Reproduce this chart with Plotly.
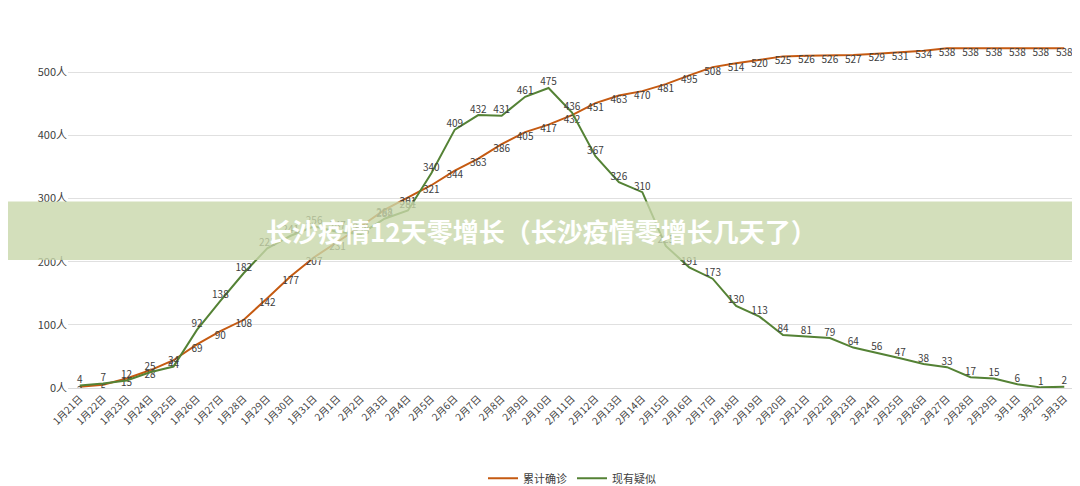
import plotly.graph_objects as go

dates = [f"1月{d}日" for d in range(21, 32)] + [f"2月{d}日" for d in range(1, 30)] + [f"3月{d}日" for d in range(1, 4)]
confirmed = [2, 5, 15, 28, 44, 69, 90, 108, 142, 177, 207, 231, 256, 282, 301, 321, 344, 363, 386, 405, 417,
             432, 451, 463, 470, 481, 495, 508, 514, 520, 525, 526, 526, 527, 529, 531, 534, 538, 538, 538, 538, 538, 538]
suspected = [4, 7, 12, 25, 34, 92, 138, 182, 221, 241, 256, 247, 244, 268, 281, 340, 409, 432, 431, 461, 475,
             436, 367, 326, 310, 225, 191, 173, 130, 113, 84, 81, 79, 64, 56, 47, 38, 33, 17, 15, 6, 1, 2]
yticks = [0, 100, 200, 300, 400, 500, 600]

fig = go.Figure()
fig.add_trace(go.Scatter(x=dates, y=confirmed, name="累计确诊", mode="lines+text",
                         line=dict(color="#C55A11", width=2), text=[str(v) for v in confirmed],
                         textposition="bottom center", textfont=dict(size=10, color="#404040")))
fig.add_trace(go.Scatter(x=dates, y=suspected, name="现有疑似", mode="lines+text",
                         line=dict(color="#548235", width=2), text=[str(v) for v in suspected],
                         textposition="top center", textfont=dict(size=10, color="#404040")))
fig.update_layout(
    width=1080, height=486, paper_bgcolor="white", plot_bgcolor="white",
    margin=dict(l=60, r=12, t=1, b=62),
    font=dict(family="Noto Sans CJK SC", size=11, color="#404040"),
    xaxis=dict(tickangle=-45, tickfont=dict(size=10), showgrid=False, showline=True, linecolor="#d9d9d9",
               range=[-0.5, 42.5]),
    yaxis=dict(range=[0, 600], tickvals=yticks, ticktext=[f"{v}人" for v in yticks],
               gridcolor="#e0e0e0", zeroline=False),
    legend=dict(orientation="h", x=0.5, xanchor="center", y=-0.2, yanchor="top", font=dict(size=11)),
    showlegend=True,
)
fig.add_shape(type="rect", xref="paper", yref="paper", x0=-0.1, x1=1.1, y0=0.338, y1=0.492,
              fillcolor="rgba(200,215,170,0.8)", line=dict(width=0), layer="above")
fig.add_annotation(text="<b>长沙疫情12天零增长（长沙疫情零增长几天了）</b>", xref="paper", yref="paper",
                   x=0.47, y=0.415, showarrow=False, font=dict(size=26, color="white", family="Noto Sans CJK SC"))
fig.write_html("out.html")
